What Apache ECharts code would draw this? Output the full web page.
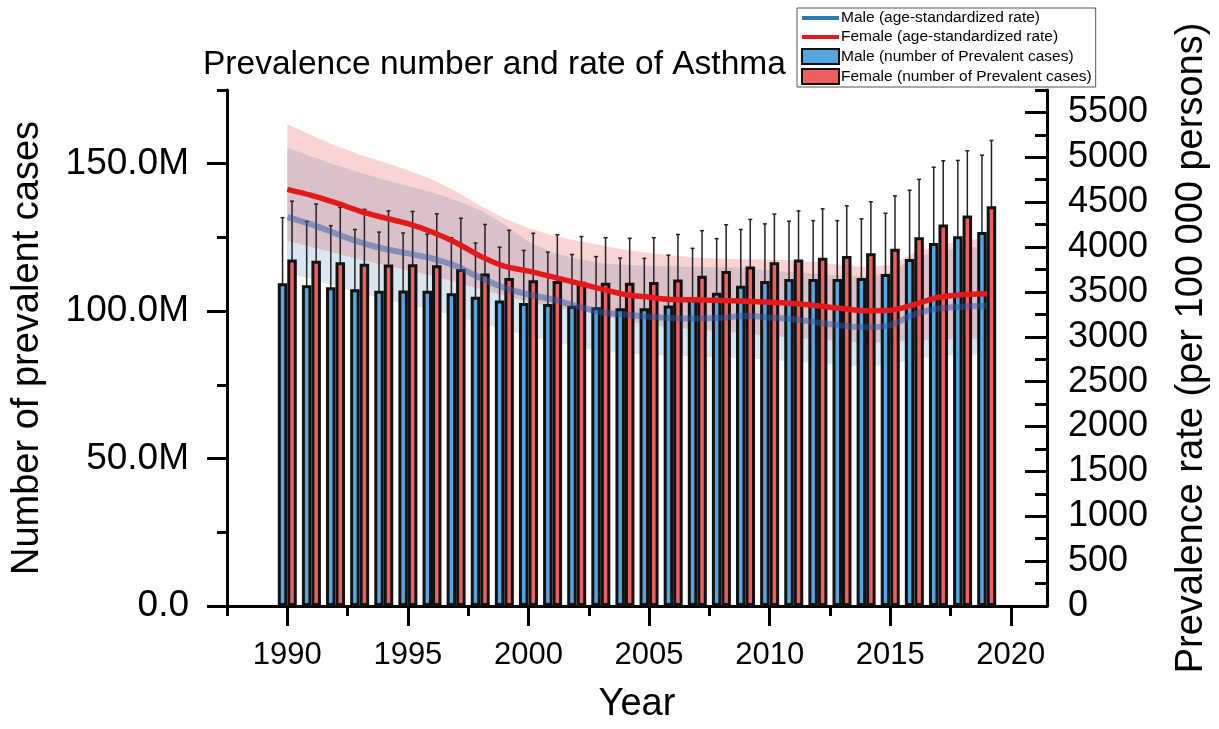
<!DOCTYPE html>
<html>
<head>
<meta charset="utf-8">
<script src="https://cdn.jsdelivr.net/npm/echarts@6/dist/echarts.min.js"></script>
<style>
  html, body { margin: 0; padding: 0; background: #fff; }
  #chart { width: 1219px; height: 729px; }
</style>
</head>
<body>
<div id="chart"></div>
<script>
// years
const years = [1990, 1991, 1992, 1993, 1994, 1995, 1996, 1997, 1998, 1999,
  2000, 2001, 2002, 2003, 2004, 2005, 2006, 2007, 2008, 2009,
  2010, 2011, 2012, 2013, 2014, 2015, 2016, 2017, 2018, 2019];

// number of prevalent cases (millions)
const maleCases = [109.5, 108.8, 108.1, 107.4, 106.9, 107.0, 106.9, 106.1, 104.9, 103.6,
  102.8, 102.4, 101.8, 101.3, 101.0, 101.0, 101.9, 104.0, 106.2, 108.6,
  110.2, 110.9, 110.9, 110.9, 111.2, 112.6, 117.7, 123.1, 125.4, 126.8];
const maleCasesLow = [93.1, 93.0, 92.7, 92.2, 91.8, 92.4, 92.4, 91.4, 90.5, 89.6,
  88.8, 88.4, 88.0, 87.4, 87.1, 87.3, 88.0, 89.6, 91.7, 94.0,
  95.6, 95.9, 95.8, 95.6, 95.6, 96.4, 100.3, 104.3, 106.0, 106.8];
const maleCasesHigh = [131.7, 130.4, 129.0, 127.7, 126.8, 126.5, 126.1, 124.9, 123.1, 121.7,
  120.6, 120.0, 119.2, 118.5, 118.0, 117.9, 119.0, 121.3, 124.6, 127.7,
  129.6, 130.5, 130.7, 130.7, 131.3, 133.2, 141.0, 148.8, 151.1, 152.9];

const femaleCases = [117.5, 117.1, 116.6, 116.1, 115.8, 115.9, 115.6, 114.3, 112.8, 111.2,
  110.5, 110.2, 110.0, 109.6, 109.6, 109.9, 110.7, 112.0, 113.6, 115.1,
  116.6, 117.5, 118.1, 118.7, 119.6, 121.2, 125.1, 129.4, 132.4, 135.6];
const femaleCasesLow = [101.6, 101.6, 101.6, 101.6, 101.8, 101.8, 102.0, 100.9, 99.7, 98.2,
  97.8, 97.5, 97.3, 97.0, 97.0, 97.5, 98.9, 98.8, 100.2, 101.5,
  102.7, 103.4, 103.7, 104.3, 105.2, 106.3, 109.2, 111.8, 114.3, 116.8];
const femaleCasesHigh = [137.3, 136.3, 135.2, 134.5, 134.0, 133.8, 133.0, 131.5, 129.4, 127.4,
  126.4, 125.9, 125.3, 124.9, 124.7, 124.9, 126.0, 127.3, 129.3, 131.1,
  132.9, 134.0, 134.7, 135.7, 137.1, 139.1, 144.7, 151.0, 154.4, 157.9];

// age-standardized prevalence rate (per 100 000)
const maleRate = [4334, 4252, 4152, 4055, 3981, 3929, 3873, 3787, 3657, 3546,
  3471, 3415, 3341, 3274, 3248, 3222, 3207, 3203, 3211, 3232,
  3215, 3195, 3160, 3125, 3105, 3130, 3250, 3315, 3335, 3345];
const maleRateLow = [3713, 3640, 3560, 3490, 3420, 3360, 3300, 3230, 3150, 3080,
  3010, 2950, 2890, 2840, 2820, 2800, 2790, 2780, 2770, 2760,
  2745, 2725, 2705, 2685, 2670, 2690, 2750, 2790, 2800, 2805];
const maleRateHigh = [5110, 5010, 4915, 4830, 4750, 4680, 4610, 4520, 4410, 4250,
  4060, 3940, 3870, 3820, 3800, 3790, 3785, 3780, 3775, 3770,
  3740, 3720, 3700, 3680, 3670, 3720, 3880, 3960, 3990, 4010];

const femaleRate = [4643, 4576, 4494, 4401, 4327, 4260, 4167, 4048, 3899, 3787,
  3731, 3668, 3601, 3534, 3471, 3441, 3415, 3412, 3404, 3397,
  3385, 3371, 3345, 3315, 3290, 3295, 3360, 3440, 3470, 3480];
const femaleRateLow = [4066, 4000, 3930, 3860, 3800, 3740, 3680, 3610, 3530, 3460,
  3390, 3330, 3290, 3250, 3180, 3130, 3100, 3080, 3060, 3040,
  3010, 2990, 2970, 2950, 2935, 2940, 2960, 2970, 2975, 2980];
const femaleRateHigh = [5368, 5245, 5130, 5030, 4945, 4855, 4755, 4620, 4460, 4320,
  4210, 4130, 4070, 4020, 3970, 3935, 3905, 3880, 3870, 3865,
  3860, 3850, 3830, 3800, 3775, 3800, 3940, 4020, 4070, 4100];

// tick values
const yearTicks = [1990, 1995, 2000, 2005, 2010, 2015, 2020];
const yearMinorTicks = [1987.5, 1992.5, 1997.5, 2002.5, 2007.5, 2012.5, 2017.5];
const caseTicks = [0, 50, 100, 150];
const caseMinorTicks = [25, 75, 125, 175];
const rateTicks = [0, 500, 1000, 1500, 2000, 2500, 3000, 3500, 4000, 4500, 5000, 5500];
const rateMinorTicks = [250, 750, 1250, 1750, 2250, 2750, 3250, 3750, 4250, 4750, 5250, 5750];

const FONT = 'Liberation Sans, Arial, sans-serif';
const pair = (arr) => arr.map((v, i) => [years[i], v]);

// uncertainty band: one polygon drawn from the first item
function band(low, high, color) {
  return function (params, api) {
    if (params.dataIndex !== 0) return;
    const pts = [];
    for (let i = 0; i < years.length; i++) pts.push(api.coord([years[i], high[i]]));
    for (let i = years.length - 1; i >= 0; i--) pts.push(api.coord([years[i], low[i]]));
    return { type: 'polygon', shape: { points: pts }, style: { fill: color } };
  };
}

function errBar(offset) {
  return function (params, api) {
    const x = api.coord([api.value(0), api.value(1)])[0] + offset;
    const yl = api.coord([api.value(0), api.value(1)])[1];
    const yh = api.coord([api.value(0), api.value(2)])[1];
    const st = { stroke: '#222', lineWidth: 1.5 };
    return {
      type: 'group',
      children: [
        { type: 'line', shape: { x1: x, y1: yl, x2: x, y2: yh }, style: st },
        { type: 'line', shape: { x1: x - 2, y1: yl, x2: x + 2, y2: yl }, style: st },
        { type: 'line', shape: { x1: x - 2, y1: yh, x2: x + 2, y2: yh }, style: st }
      ]
    };
  };
}

const chart = echarts.init(document.getElementById('chart'));

const noSymbol = { color: 'rgba(0,0,0,0)', borderWidth: 0, opacity: 0 };

const option = {
  animation: false,
  backgroundColor: '#fff',
  textStyle: { fontFamily: FONT, color: '#000' },
  title: {
    text: 'Prevalence number and rate of Asthma',
    left: 198, top: 43,
    textStyle: { fontFamily: FONT, fontSize: 33.5, fontWeight: 'normal', color: '#000' }
  },
  legend: {
    orient: 'vertical',
    left: 797, top: 8,
    padding: [2, 4, 2, 3],
    itemGap: 3,
    itemWidth: 37, itemHeight: 15,
    backgroundColor: '#fff',
    borderColor: '#555', borderWidth: 1, borderRadius: 0,
    textStyle: { fontFamily: FONT, fontSize: 15.5, lineHeight: 16, color: '#000', padding: [0, 0, 0, -3] },
    data: [
      { name: 'Male (age-standardized rate)', itemStyle: noSymbol, lineStyle: { color: '#2a7ab8', opacity: 1, width: 4 } },
      { name: 'Female (age-standardized rate)', itemStyle: noSymbol, lineStyle: { color: '#e31a1c', opacity: 1, width: 4 } },
      { name: 'Male (number of Prevalent cases)', icon: 'rect' },
      { name: 'Female (number of Prevalent cases)', icon: 'rect' }
    ]
  },
  grid: { left: 227, right: 172, top: 90, bottom: 123, containLabel: false },
  xAxis: [
    {
      type: 'value', min: 1987.5, max: 2021.5,
      name: 'Year', nameLocation: 'middle', nameGap: 80,
      nameTextStyle: { fontFamily: FONT, fontSize: 38, color: '#000' },
      axisLine: { show: true, lineStyle: { color: '#000', width: 3 } },
      axisTick: { show: true, customValues: yearTicks, length: 20, lineStyle: { color: '#000', width: 3 } },
      axisLabel: { customValues: yearTicks, margin: 34, fontFamily: FONT, fontSize: 31, color: '#000', formatter: (v) => String(v) },
      splitLine: { show: false }
    },
    {
      type: 'value', min: 1987.5, max: 2021.5, position: 'bottom',
      axisLine: { show: false },
      axisTick: { show: true, customValues: yearMinorTicks, length: 10, lineStyle: { color: '#000', width: 3 } },
      axisLabel: { show: false },
      splitLine: { show: false }
    }
  ],
  yAxis: [
    {
      type: 'value', min: 0, max: 175, position: 'left',
      name: 'Number of prevalent cases', nameLocation: 'middle', nameRotate: 90, nameGap: 180,
      nameTextStyle: { fontFamily: FONT, fontSize: 38, color: '#000' },
      axisLine: { show: true, lineStyle: { color: '#000', width: 3 } },
      axisTick: { show: true, customValues: caseTicks, length: 20, lineStyle: { color: '#000', width: 3 } },
      axisLabel: {
        customValues: caseTicks, margin: 38, fontFamily: FONT, fontSize: 37, color: '#000',
        formatter: (v) => v === 0 ? '0.0' : v.toFixed(1) + 'M'
      },
      splitLine: { show: false }
    },
    {
      type: 'value', min: 0, max: 5750, position: 'right',
      name: 'Prevalence rate (per 100 000 persons)', nameLocation: 'middle', nameRotate: 90, nameGap: 126,
      nameTextStyle: { fontFamily: FONT, fontSize: 38, color: '#000' },
      axisLine: { show: true, lineStyle: { color: '#000', width: 3 } },
      axisTick: { show: true, inside: true, customValues: rateTicks, length: 22, lineStyle: { color: '#000', width: 3 } },
      axisLabel: { customValues: rateTicks, margin: 21, fontFamily: FONT, fontSize: 36, color: '#000', formatter: (v) => String(v) },
      splitLine: { show: false }
    },
    {
      type: 'value', min: 0, max: 175, position: 'left',
      axisLine: { show: false },
      axisTick: { show: true, customValues: caseMinorTicks, length: 10, lineStyle: { color: '#000', width: 3 } },
      axisLabel: { show: false },
      splitLine: { show: false }
    },
    {
      type: 'value', min: 0, max: 5750, position: 'right',
      axisLine: { show: false },
      axisTick: { show: true, inside: true, customValues: rateMinorTicks, length: 12, lineStyle: { color: '#000', width: 3 } },
      axisLabel: { show: false },
      splitLine: { show: false }
    }
  ],
  series: [
    {
      name: 'maleBand', type: 'custom', yAxisIndex: 1, silent: true,
      renderItem: band(maleRateLow, maleRateHigh, 'rgba(31,119,180,0.18)'),
      encode: { x: 0, y: 1 },
      data: pair(maleRate)
    },
    {
      name: 'Male (age-standardized rate)', type: 'line', yAxisIndex: 1, smooth: 0.3,
      symbol: 'none', lineStyle: { width: 6, color: 'rgba(50,90,165,0.5)' },
      itemStyle: { color: '#2a7ab8' },
      data: pair(maleRate)
    },
    {
      name: 'femaleBand', type: 'custom', yAxisIndex: 1, silent: true,
      renderItem: band(femaleRateLow, femaleRateHigh, 'rgba(232,40,40,0.2)'),
      encode: { x: 0, y: 1 },
      data: pair(femaleRate)
    },
    {
      name: 'Female (age-standardized rate)', type: 'line', yAxisIndex: 1, smooth: 0.3,
      symbol: 'none', lineStyle: { width: 5.5, color: '#e31a1c' },
      itemStyle: { color: '#e31a1c' },
      data: pair(femaleRate)
    },
    {
      name: 'Male (number of Prevalent cases)', type: 'bar', yAxisIndex: 0,
      barWidth: 9.5, barGap: '0%',
      itemStyle: { color: '#55a6e0', borderColor: '#111', borderWidth: 3 },
      data: pair(maleCases)
    },
    {
      name: 'Female (number of Prevalent cases)', type: 'bar', yAxisIndex: 0,
      barWidth: 9.5, barGap: '0%',
      itemStyle: { color: '#ee6060', borderColor: '#111', borderWidth: 3 },
      data: pair(femaleCases)
    },
    {
      name: 'maleErr', type: 'custom', yAxisIndex: 0, silent: true,
      renderItem: errBar(-4.75), encode: { x: 0, y: [1, 2] },
      data: years.map((y, i) => [y, maleCasesLow[i], maleCasesHigh[i]])
    },
    {
      name: 'femaleErr', type: 'custom', yAxisIndex: 0, silent: true,
      renderItem: errBar(4.75), encode: { x: 0, y: [1, 2] },
      data: years.map((y, i) => [y, femaleCasesLow[i], femaleCasesHigh[i]])
    }
  ]
};

chart.setOption(option);
</script>
</body>
</html>
